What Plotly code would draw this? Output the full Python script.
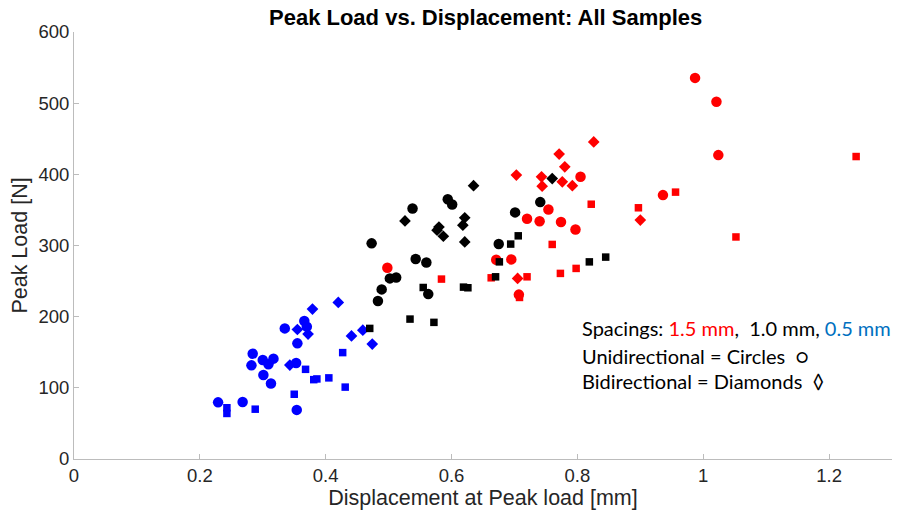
import plotly.graph_objects as go

# ---- data (displacement [mm], peak load [N]) ----
red_circle_x = [0.498, 0.671, 0.695, 0.707, 0.720, 0.740, 0.754, 0.774, 0.797, 0.805, 0.936, 0.987, 1.021, 1.024]
red_circle_y = [268.7, 280, 280.5, 231, 337.5, 334, 350.7, 333, 322.6, 396.5, 370.8, 535.5, 502, 427]
red_square_x = [0.584, 0.663, 0.720, 0.708, 0.760, 0.773, 0.798, 0.822, 0.897, 0.956, 1.052, 1.243]
red_square_y = [252.8, 254.6, 256, 227, 301.5, 260.8, 267.8, 358, 353, 375, 312, 425]
red_diamond_x = [0.705, 0.703, 0.743, 0.744, 0.771, 0.780, 0.776, 0.792, 0.826, 0.900]
red_diamond_y = [253.8, 399, 396.5, 383.4, 428.4, 410.5, 389.5, 384, 445.6, 335.7]

black_circle_x = [0.473, 0.483, 0.489, 0.502, 0.512, 0.538, 0.543, 0.560, 0.563, 0.594, 0.601, 0.675, 0.701, 0.741]
black_circle_y = [303, 222, 238.3, 253.8, 255, 352, 281, 276, 231.7, 365, 357.7, 302, 346.5, 361]
black_square_x = [0.470, 0.534, 0.572, 0.555, 0.619, 0.626, 0.670, 0.676, 0.694, 0.706, 0.819, 0.845]
black_square_y = [183.5, 196.6, 192, 241, 241.5, 240.6, 256, 277, 302, 313.6, 277, 283.7]
black_diamond_x = [0.526, 0.580, 0.577, 0.587, 0.621, 0.618, 0.621, 0.635, 0.760]
black_diamond_y = [334.5, 326, 321.6, 313, 339, 328.6, 305, 384, 394]

blue_circle_x = [0.229, 0.268, 0.284, 0.282, 0.300, 0.309, 0.317, 0.301, 0.313, 0.335, 0.355, 0.353, 0.354, 0.366, 0.370]
blue_circle_y = [79.6, 80, 148, 131.6, 139, 133, 141, 118, 106, 183.5, 162.5, 135, 69, 194, 186]
blue_square_x = [0.243, 0.243, 0.288, 0.350, 0.368, 0.381, 0.386, 0.405, 0.431, 0.427]
blue_square_y = [72, 64, 70, 91, 126, 111.5, 112.5, 114, 101, 149.5]
blue_diamond_x = [0.379, 0.420, 0.355, 0.372, 0.343, 0.441, 0.459, 0.474]
blue_diamond_y = [210.7, 220, 182, 175.5, 132, 173, 181, 161.5]

x_ticks = [0, 0.2, 0.4, 0.6, 0.8, 1.0, 1.2]
x_tick_labels = ["0", "0.2", "0.4", "0.6", "0.8", "1", "1.2"]
y_ticks = [0, 100, 200, 300, 400, 500, 600]

RED, BLACK, BLUE = "#ff0000", "#000000", "#0000ff"
SIZES = {"circle": 10.5, "square": 7.5, "diamond": 9}

groups = [
    (red_circle_x, red_circle_y, RED, "circle"),
    (red_square_x, red_square_y, RED, "square"),
    (red_diamond_x, red_diamond_y, RED, "diamond"),
    (blue_circle_x, blue_circle_y, BLUE, "circle"),
    (blue_square_x, blue_square_y, BLUE, "square"),
    (blue_diamond_x, blue_diamond_y, BLUE, "diamond"),
    (black_circle_x, black_circle_y, BLACK, "circle"),
    (black_square_x, black_square_y, BLACK, "square"),
    (black_diamond_x, black_diamond_y, BLACK, "diamond"),
]

fig = go.Figure()
for gx, gy, col, sym in groups:
    fig.add_trace(go.Scatter(
        x=gx, y=gy, mode="markers",
        marker=dict(color=col, symbol=sym, size=SIZES[sym], line=dict(width=0)),
        showlegend=False, hoverinfo="x+y",
    ))

axis_col = "#bcbcbc"
FONT = "Liberation Sans, Arial, sans-serif"
tick_font = dict(family=FONT, size=18.5, color="#262626")
label_font = dict(family=FONT, size=21.5, color="#262626")
fig.update_layout(
    width=901, height=517,
    margin=dict(l=74, r=9, t=32, b=58),
    plot_bgcolor="white", paper_bgcolor="white",
    title=dict(text="<b>Peak Load vs. Displacement: All Samples</b>",
               x=0.539, xanchor="center", y=0.967, yanchor="middle",
               font=dict(family=FONT, size=22, color="#000000")),
    xaxis=dict(range=[0, 1.3], tickvals=x_ticks, ticktext=x_tick_labels, automargin=False,
               showgrid=False, zeroline=False, showline=True, linecolor=axis_col, linewidth=1,
               ticks="inside", ticklen=5, tickcolor=axis_col, tickfont=tick_font,
               title=dict(text="Displacement at Peak load [mm]", standoff=4, font=label_font)),
    yaxis=dict(range=[0, 600], tickvals=y_ticks, automargin=False,
               showgrid=False, zeroline=False, showline=True, linecolor=axis_col, linewidth=1,
               ticks="inside", ticklen=5, tickcolor=axis_col, tickfont=tick_font,
               title=dict(text="Peak Load [N]", standoff=4, font=label_font)),
)

note_font = dict(family="Lato, Carlito, sans-serif", size=20, color="#000000")
lines = [
    ("Spacings: <span style='color:#ff0000'>1.5 mm</span>,  1.0 mm, <span style='color:#0070c0'>0.5 mm</span>", 0.306),
    ("Unidirectional = Circles  \u25cb", 0.241),
    ("Bidirectional = Diamonds  \u25ca", 0.182),
]
for txt, yy in lines:
    fig.add_annotation(text=txt, xref="paper", yref="paper", x=0.619, y=yy,
                       xanchor="left", yanchor="middle", showarrow=False, font=note_font)

fig.write_html("out.html", config={"displayModeBar": False},
               post_script="document.body.style.margin='0';document.body.style.overflow='hidden';")
